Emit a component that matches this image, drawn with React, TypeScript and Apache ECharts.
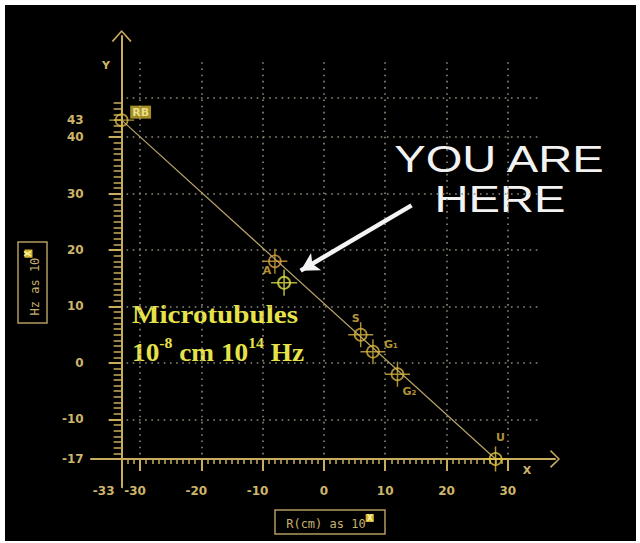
import React, { useEffect, useRef } from 'react';
import * as echarts from 'echarts';

// ---- data ----
const xTickLabels = [-33, -30, -20, -10, 0, 10, 20, 30];
const yTickLabels = [-17, -10, 0, 10, 20, 30, 40, 43];
const xMajorTicks = [-30, -20, -10, 0, 10, 20, 30];
const yMajorTicks = [-10, 0, 10, 20, 30, 40];
const xMinorTicks: number[] = [];
for (let v = -32; v <= 29; v++) xMinorTicks.push(v);
const yMinorTicks: number[] = [];
for (let v = -16; v <= 46; v++) yMinorTicks.push(v);
const gridXValues = [-30, -20, -10, 0, 10, 20, 30];
const gridYValues = [-10, 0, 10, 20, 30, 40, 47];

const pointNames = ['RB', 'A', 'S', 'G₁', 'G₂', 'U'];
const pointX = [-33, -8, 6, 8, 12, 28];
const pointY = [43, 18, 5, 2, -2, -17];
const microX = [-6.5];
const microY = [14.2];
const lineX = [-33, 28];
const lineY = [43, -17];
const arrowFrom = [14.3, 27.9];
const arrowTo = [-3.8, 16.35];

// ---- styles ----
const AXIS = '#c9ad5e';
const LABEL = '#cdb56a';
const DOT = '#8e8b78';
const FONT = 'DejaVu Sans';
const CHEV_X = 'path://M9,0 L18,9 L16.6,10 L9,2 L1.4,10 L0,9 Z';
const CHEV_Y = 'path://M10,0 L20,11 L18.6,12 L10,2.2 L1.4,12 L0,11 Z';
const CROSS = 'path://M0,11.3 L24,11.3 L24,12.7 L0,12.7 Z M11.3,0 L12.7,0 L12.7,24 L11.3,24 Z';

const labelPlace: Record<string, [number, number]> = {
  RB: [19, -8],
  A: [-8, 9],
  S: [-5, -16],
  'G₁': [18, -7],
  'G₂': [12, 17],
  U: [5, -21],
};
const markerColor: Record<string, string> = {
  RB: '#d8b848',
  A: '#d8a444',
  S: '#d8b444',
  'G₁': '#d8b444',
  'G₂': '#d8b444',
  U: '#e2c640',
};
const MICRO = '#dde24a';

function buildOption() {
  const markers = pointNames.map((n, i) => ({
    name: n,
    value: [pointX[i], pointY[i]],
    itemStyle: { color: 'rgba(0,0,0,0)', borderColor: markerColor[n], borderWidth: 1.7 },
  }));
  const crosses = pointNames.map((n, i) => ({
    name: n,
    value: [pointX[i], pointY[i]],
    itemStyle: { color: markerColor[n] },
    label: {
      show: true,
      position: 'inside',
      offset: labelPlace[n],
      formatter: '{b}',
      color: n === 'RB' ? '#fff4a0' : '#e0bc44',
      backgroundColor: n === 'RB' ? '#cdb232' : 'transparent',
      padding: n === 'RB' ? [1, 2] : 0,
      fontSize: 11,
      fontWeight: 'bold',
      fontFamily: FONT,
    },
  }));
  const microPts = microX.map((x, i) => [x, microY[i]]);
  const linePts = lineX.map((x, i) => [x, lineY[i]]);

  const gridLines: any[] = [];
  gridXValues.forEach((x) => gridLines.push([{ coord: [x, -16.2] }, { coord: [x, 53.4] }]));
  gridYValues.forEach((y) => gridLines.push([{ coord: [-32.2, y] }, { coord: [35.4, y] }]));

  const xCommon = {
    type: 'value',
    min: -38,
    max: 37.7,
    position: 'bottom',
    offset: -28.24,
    splitLine: { show: false },
  };
  const yCommon = {
    type: 'value',
    min: -22,
    max: 57.9,
    position: 'left',
    offset: -30.65,
    splitLine: { show: false },
  };

  return {
    animation: false,
    backgroundColor: '#000',
    grid: { left: 86, top: 31, width: 464, height: 451.2, containLabel: false },
    xAxis: [
      {
        ...xCommon,
        axisLine: {
          show: true,
          onZero: false,
          lineStyle: { color: AXIS, width: 2 },
          symbol: ['none', CHEV_X],
          symbolSize: [18, 10],
        },
        axisTick: { show: true, customValues: xMajorTicks, length: 12, lineStyle: { color: AXIS, width: 2 } },
        axisLabel: {
          show: true,
          customValues: xTickLabels,
          margin: 26,
          color: LABEL,
          fontSize: 12,
          fontWeight: 'bold',
          fontFamily: FONT,
          formatter: (v: number) => (v === -33 ? '{f|-33}' : v < 0 ? '{n|' + v + '}' : String(v)),
          rich: {
            f: { padding: [0, 36, 0, 0], color: LABEL, fontSize: 12, fontWeight: 'bold', fontFamily: FONT },
            n: { padding: [0, 10, 0, 0], color: LABEL, fontSize: 12, fontWeight: 'bold', fontFamily: FONT },
          },
        },
      },
      {
        ...xCommon,
        axisLine: { show: false, onZero: false },
        axisTick: { show: true, customValues: xMinorTicks, length: 5, lineStyle: { color: AXIS, width: 1.5 } },
        axisLabel: { show: false },
      },
    ],
    yAxis: [
      {
        ...yCommon,
        axisLine: {
          show: true,
          onZero: false,
          lineStyle: { color: AXIS, width: 2 },
          symbol: ['none', CHEV_Y],
          symbolSize: [20, 12],
        },
        axisTick: { show: true, customValues: yMajorTicks, length: 13, lineStyle: { color: AXIS, width: 2 } },
        axisLabel: {
          show: true,
          customValues: yTickLabels,
          margin: 38,
          color: LABEL,
          fontSize: 12,
          fontWeight: 'bold',
          fontFamily: FONT,
        },
      },
      {
        ...yCommon,
        axisLine: { show: false, onZero: false },
        axisTick: { show: true, customValues: yMinorTicks, length: 8, lineStyle: { color: AXIS, width: 1.5 } },
        axisLabel: { show: false },
      },
    ],
    series: [
      {
        type: 'line',
        xAxisIndex: 0,
        yAxisIndex: 0,
        data: linePts,
        symbol: 'none',
        lineStyle: { color: '#b9a56a', width: 1.2 },
        z: 3,
        markLine: {
          silent: true,
          symbol: ['none', 'none'],
          label: { show: false },
          lineStyle: { color: DOT, width: 1.6, type: [1.6, 4.6] },
          data: gridLines,
          z: 1,
        },
      },
      {
        type: 'scatter',
        xAxisIndex: 0,
        yAxisIndex: 0,
        symbol: 'circle',
        symbolSize: 12,
        data: markers,
        z: 4,
      },
      {
        type: 'scatter',
        xAxisIndex: 0,
        yAxisIndex: 0,
        symbol: CROSS,
        symbolSize: 25,
        data: crosses,
        z: 5,
      },
      {
        type: 'scatter',
        xAxisIndex: 0,
        yAxisIndex: 0,
        symbol: 'circle',
        symbolSize: 12,
        itemStyle: { color: 'rgba(0,0,0,0)', borderColor: MICRO, borderWidth: 1.9 },
        data: microPts,
        z: 4,
      },
      {
        type: 'scatter',
        xAxisIndex: 0,
        yAxisIndex: 0,
        symbol: CROSS,
        symbolSize: 26,
        itemStyle: { color: MICRO },
        data: microPts,
        z: 5,
        markLine: {
          silent: true,
          label: { show: false },
          z: 6,
          data: [
            [
              { coord: arrowFrom, symbol: 'none', lineStyle: { color: '#f4f4f4', width: 4.5, type: 'solid' } },
              { coord: arrowTo, symbol: 'arrow', symbolSize: [15, 18] },
            ],
          ],
        },
      },
    ],
    graphic: [
      {
        type: 'text',
        x: 494,
        y: 155,
        scaleX: 1.31,
        style: { text: 'YOU ARE', fill: '#f2f2f2', fontSize: 36, fontFamily: 'Liberation Sans', align: 'center', verticalAlign: 'middle' },
      },
      {
        type: 'text',
        x: 495,
        y: 195,
        scaleX: 1.31,
        style: { text: 'HERE', fill: '#f2f2f2', fontSize: 36, fontFamily: 'Liberation Sans', align: 'center', verticalAlign: 'middle' },
      },
      {
        type: 'text',
        x: 127,
        y: 309.5,
        scaleX: 1.12,
        style: { text: 'Microtubules', fill: '#e6e34a', fontSize: 26, fontWeight: 'bold', fontFamily: 'Liberation Serif', align: 'left', verticalAlign: 'middle' },
      },
      {
        type: 'text',
        x: 127,
        y: 345,
        scaleX: 1.05,
        style: {
          text: '{n|10}{s|-8}{n| cm 10}{s|14}{n| Hz}',
          fill: '#e6e34a',
          align: 'left',
          verticalAlign: 'middle',
          rich: {
            n: { fontSize: 26, fontWeight: 'bold', fontFamily: 'Liberation Serif', lineHeight: 30, fill: '#e6e34a', verticalAlign: 'bottom' },
            s: { fontSize: 15, fontWeight: 'bold', fontFamily: 'Liberation Serif', lineHeight: 18, fill: '#e6e34a', verticalAlign: 'top' },
          },
        },
      },
      {
        type: 'text',
        x: 101,
        y: 60,
        style: { text: 'Y', fill: LABEL, fontSize: 11, fontWeight: 'bold', fontFamily: FONT, align: 'center', verticalAlign: 'middle' },
      },
      {
        type: 'text',
        x: 522,
        y: 465,
        style: { text: 'X', fill: LABEL, fontSize: 11, fontWeight: 'bold', fontFamily: FONT, align: 'center', verticalAlign: 'middle' },
      },
      {
        type: 'rect',
        shape: { x: 270, y: 505, width: 110, height: 24 },
        style: { fill: 'none', stroke: '#b39b62', lineWidth: 1.5 },
      },
      {
        type: 'text',
        x: 325,
        y: 517,
        style: {
          text: '{a|R(cm) as 10}{b|X}',
          align: 'center',
          verticalAlign: 'middle',
          rich: {
            a: { fontSize: 12, fontFamily: 'DejaVu Sans Mono', fill: '#c8b070', verticalAlign: 'bottom', lineHeight: 16 },
            b: { fontSize: 8, fontWeight: 'bold', fontFamily: FONT, fill: '#fff39a', backgroundColor: '#d0b432', verticalAlign: 'top', lineHeight: 10, padding: [0, 1] },
          },
        },
      },
      {
        type: 'rect',
        shape: { x: 13, y: 237, width: 29, height: 81 },
        style: { fill: 'none', stroke: '#b39b62', lineWidth: 1.5 },
      },
      {
        type: 'text',
        x: 27.5,
        y: 277.5,
        rotation: Math.PI / 2,
        style: {
          text: '{a|Hz as 10}{b|X}',
          align: 'center',
          verticalAlign: 'middle',
          rich: {
            a: { fontSize: 12, fontFamily: 'DejaVu Sans Mono', fill: '#c8b070', verticalAlign: 'bottom', lineHeight: 16 },
            b: { fontSize: 8, fontWeight: 'bold', fontFamily: FONT, fill: '#fff39a', backgroundColor: '#d0b432', verticalAlign: 'top', lineHeight: 10, padding: [0, 1] },
          },
        },
      },
    ],
  };
}

export default function App() {
  const ref = useRef<HTMLDivElement>(null);
  useEffect(() => {
    if (!ref.current) return;
    const chart = echarts.init(ref.current, null, { renderer: 'svg' });
    chart.setOption(buildOption() as any);
    return () => chart.dispose();
  }, []);
  return (
    <div style={{ position: 'absolute', left: 0, top: 0, width: 640, height: 543, background: '#fff' }}>
      <div ref={ref} style={{ position: 'absolute', left: 5, top: 5, width: 631, height: 536, background: '#000' }} />
    </div>
  );
}
